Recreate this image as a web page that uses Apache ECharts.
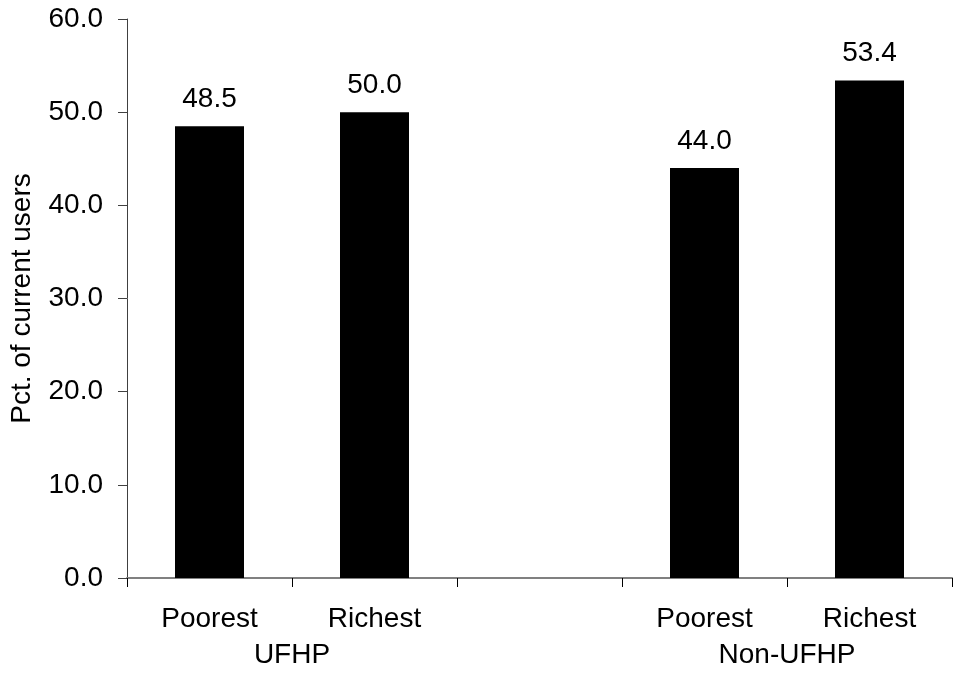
<!DOCTYPE html>
<html>
<head>
<meta charset="utf-8">
<script src="https://cdn.jsdelivr.net/npm/echarts@6/dist/echarts.min.js"></script>
<style>
  html, body { margin: 0; padding: 0; background: #fff; }
  #chart { width: 955px; height: 673px; }
</style>
</head>
<body>
<div id="chart"></div>
<script>
// Income groups within each programme; the empty slot separates the two programmes
const categories = ['Poorest', 'Richest', '', 'Poorest', 'Richest'];
// Share of current users (%)
const values = [48.5, 50.0, null, 44.0, 53.4];
// Programme names, centred under each pair of bars
const groupLabels = ['', 'UFHP', '', '', 'Non-UFHP', ''];
const yTicks = { min: 0, max: 60, interval: 10 };
const yAxisTitle = 'Pct. of current users';

const font = 'Liberation Sans, Arial, sans-serif';
const fs = 28;
const chart = echarts.init(document.getElementById('chart'));

chart.setOption({
  animation: false,
  backgroundColor: '#ffffff',
  grid: { left: 127, top: 19, width: 833, height: 559, containLabel: false },
  xAxis: [
    {
      type: 'category',
      data: categories,
      axisLine: { lineStyle: { color: '#808080', width: 2 } },
      axisTick: { show: true, length: 9, lineStyle: { color: '#000', width: 1 } },
      axisLabel: { color: '#000', fontSize: fs, fontFamily: font, margin: 27, interval: 0 }
    },
    {
      type: 'category',
      position: 'bottom',
      boundaryGap: false,
      data: groupLabels,
      axisLine: { show: false },
      axisTick: { show: false },
      splitLine: { show: false },
      axisLabel: { color: '#000', fontSize: fs, fontFamily: font, margin: 63, interval: 0 }
    }
  ],
  yAxis: {
    type: 'value',
    min: yTicks.min,
    max: yTicks.max,
    interval: yTicks.interval,
    name: yAxisTitle,
    nameLocation: 'middle',
    nameGap: 91,
    nameTextStyle: { color: '#000', fontSize: fs, fontFamily: font },
    axisLine: { show: true, lineStyle: { color: '#404040', width: 1 } },
    axisTick: { show: true, length: 9, lineStyle: { color: '#404040', width: 1 } },
    axisLabel: {
      color: '#000', fontSize: fs, fontFamily: font, margin: 24,
      formatter: v => v.toFixed(1)
    },
    splitLine: { show: false }
  },
  series: [{
    type: 'bar',
    data: values,
    barWidth: 69,
    itemStyle: { color: '#000000' },
    label: {
      show: true,
      position: 'top',
      distance: 13,
      color: '#000',
      fontSize: fs,
      fontFamily: font,
      formatter: p => p.value.toFixed(1)
    }
  }]
});
</script>
</body>
</html>
